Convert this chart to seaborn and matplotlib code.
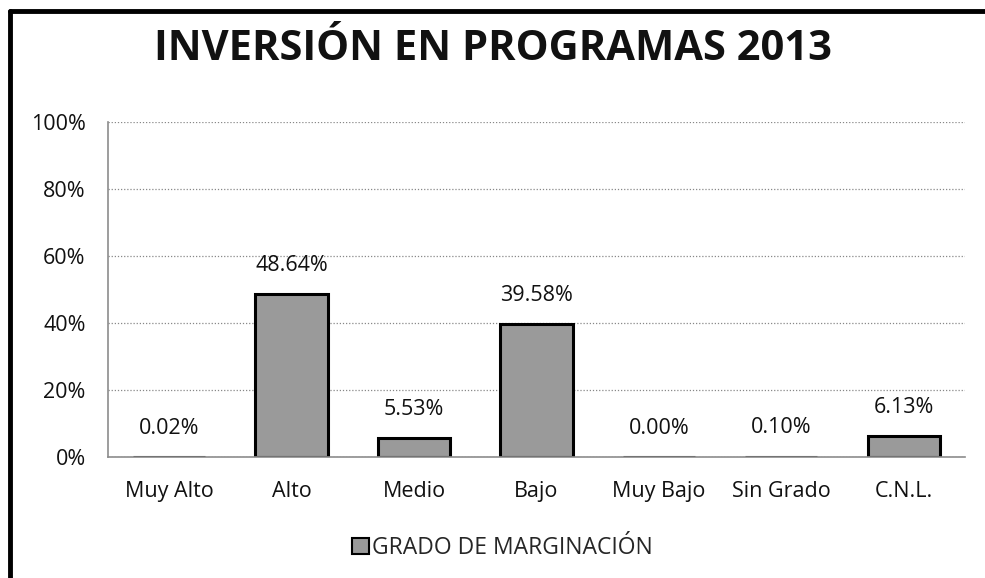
import matplotlib
matplotlib.use("Agg")
import matplotlib.pyplot as plt
import seaborn as sns
import pandas as pd
from matplotlib.lines import Line2D
from matplotlib.patches import Patch
from matplotlib.ticker import PercentFormatter

# Datos
categorias = ["Muy Alto", "Alto", "Medio", "Bajo", "Muy Bajo", "Sin Grado", "C.N.L."]
porcentajes = [0.02, 48.64, 5.53, 39.58, 0.00, 0.10, 6.13]
serie = "GRADO DE MARGINACIÓN"
titulo = "INVERSIÓN EN PROGRAMAS 2013"

df = pd.DataFrame({"categoria": categorias, "valor": porcentajes})

sns.set_style("white")
plt.rcParams["font.family"] = ["Open Sans", "DejaVu Sans"]

fig = plt.figure(figsize=(9.85, 5.78), dpi=100)
ax = fig.add_axes([0.1096, 0.2093, 0.8701, 0.5797])

sns.barplot(data=df, x="categoria", y="valor", color="#9a9a9a",
            edgecolor="black", linewidth=2.2, width=0.59, saturation=1, ax=ax)

for i, v in enumerate(porcentajes):
    ax.text(i, v + 5.5, f"{v:.2f}%", ha="center", va="bottom",
            fontsize=15.5, color="#111111")

ax.set_ylim(0, 100)
ax.set_yticks(range(0, 101, 20))
ax.yaxis.set_major_formatter(PercentFormatter(decimals=0))
ax.grid(axis="y", linestyle=(0, (1, 1.5)), color="#888888", linewidth=0.9)
ax.set_axisbelow(True)
ax.set_xlabel("")
ax.set_ylabel("")
ax.tick_params(axis="both", labelsize=15.5, colors="#111111", length=0, pad=16)
ax.tick_params(axis="x", pad=17)

for lado in ["top", "right"]:
    ax.spines[lado].set_visible(False)
for lado in ["left", "bottom"]:
    ax.spines[lado].set_color("#8c8c8c")
    ax.spines[lado].set_linewidth(1.2)

fig.text(0.5, 0.915, titulo, ha="center", va="center",
         fontsize=30, fontweight="bold", color="#111111")

mano = [Patch(facecolor="#9a9a9a", edgecolor="black", linewidth=1.5)]
fig.legend(mano, [serie], loc="center", bbox_to_anchor=(0.51, 0.052),
           frameon=False, fontsize=16.5, handlelength=0.75, handleheight=0.75,
           handletextpad=0.15)

# marco negro superior e izquierdo
fig.add_artist(Line2D([0.0105, 1.0], [0.981, 0.981], color="black",
                      linewidth=3.5, transform=fig.transFigure))
fig.add_artist(Line2D([0.0105, 0.0105], [0.0, 0.981], color="black",
                      linewidth=3.5, transform=fig.transFigure))

fig.savefig("out.png", dpi=100)
